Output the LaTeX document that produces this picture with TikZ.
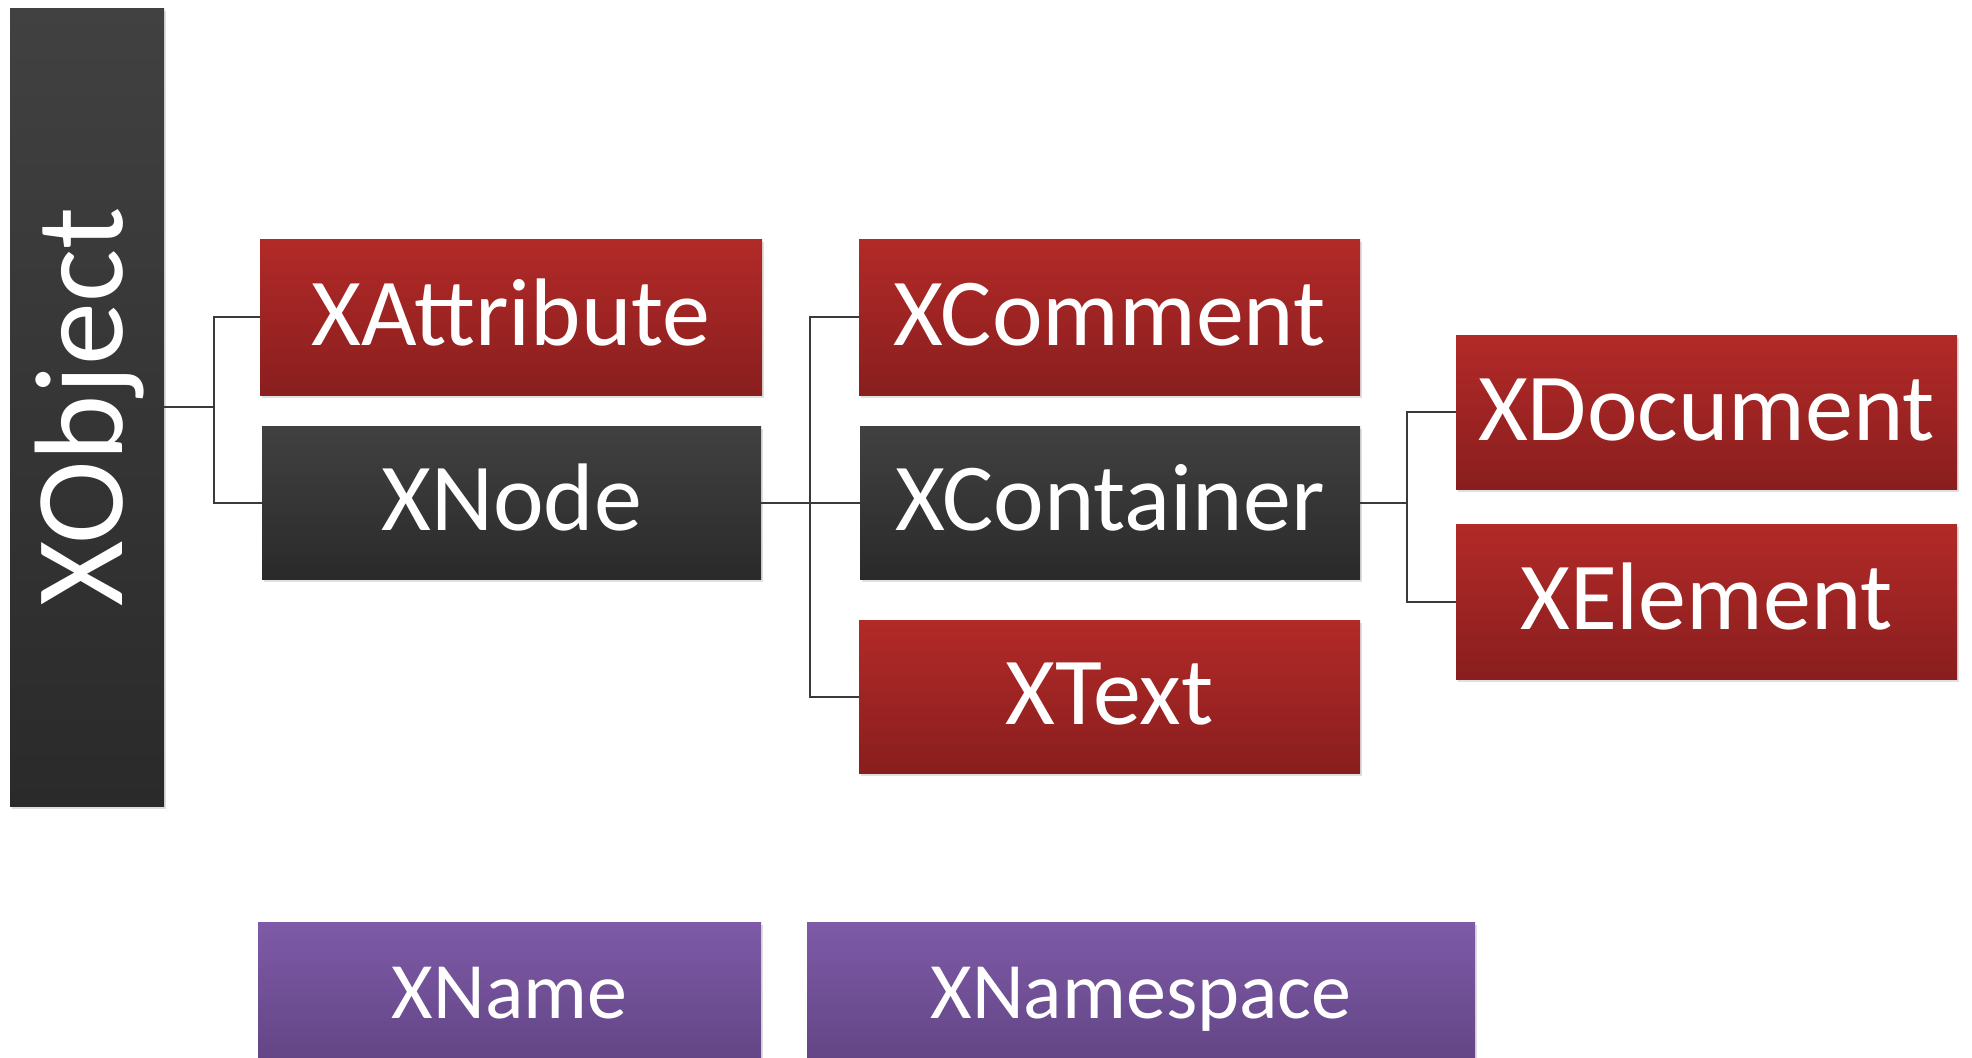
\documentclass[tikz,border=0pt]{standalone}
\usepackage{fontspec}
\setmainfont{Carlito}
\usetikzlibrary{shadows}
\definecolor{redtop}{HTML}{B22A28}
\definecolor{redbot}{HTML}{891E1E}
\definecolor{darktop}{HTML}{414141}
\definecolor{darkbot}{HTML}{2A2A2A}
\definecolor{purtop}{HTML}{7E5AA8}
\definecolor{purbot}{HTML}{614482}
\definecolor{linecol}{HTML}{3A3A3A}
\tikzset{
  box/.style={rectangle, inner sep=0pt, text=white, draw=none,
    drop shadow={opacity=0.25, shadow xshift=0.8pt, shadow yshift=-1.6pt}},
  bigfont/.style={font=\fontsize{48}{58}\selectfont, text height=31pt, text depth=3pt},
  redbox/.style={box, bigfont, top color=redtop, bottom color=redbot},
  darkbox/.style={box, bigfont, top color=darktop, bottom color=darkbot},
  rootbox/.style={box, top color=darktop, bottom color=darkbot, font=\fontsize{63}{75}\selectfont},
  purbox/.style={box, top color=purtop, bottom color=purbot, font=\fontsize{40}{48}\selectfont, text height=25.8pt, text depth=4pt},
  conn/.style={draw=linecol, line width=1pt}
}
\begin{document}
\begin{tikzpicture}[x=0.5pt,y=-0.5pt]
\useasboundingbox (0,0) rectangle (1972,1057);
% nodes
\node[rootbox, minimum width=77pt, minimum height=399pt] (xobj) at (87,407) {\hspace{3pt}\rotatebox{90}{XObject}};
\node[redbox, minimum width=251pt, minimum height=78pt] (xattr) at (511,317) {XAttribute};
\node[darkbox, minimum width=249.5pt, minimum height=76.5pt] (xnode) at (511.5,502.5) {XNode};
\node[redbox, minimum width=250.5pt, minimum height=78pt] (xcomment) at (1109.5,317) {XComment};
\node[darkbox, minimum width=250pt, minimum height=76.5pt] (xcont) at (1110,502.5) {XContainer};
\node[redbox, minimum width=250.5pt, minimum height=76.5pt] (xtext) at (1109.5,696.5) {XText};
\node[redbox, minimum width=250.5pt, minimum height=77pt] (xdoc) at (1706.5,412) {XDocument};
\node[redbox, minimum width=250.5pt, minimum height=77.5pt] (xelem) at (1706.5,601.5) {XElement};
\node[purbox, minimum width=251.5pt, minimum height=75pt] (xname) at (509.5,997) {XName};
\node[purbox, minimum width=334pt, minimum height=75pt] (xns) at (1141,997) {XNamespace};
% junction coordinates
\coordinate (j1) at (214,0);
\coordinate (j2) at (810,0);
\coordinate (j3) at (1407,0);
% connectors
\draw[conn] (xobj.east) -- (j1 |- xobj.east);
\draw[conn] (xattr.west) -| (j1 |- xnode.west) -- (xnode.west);
\draw[conn] (xnode.east) -- (j2 |- xnode.east);
\draw[conn] (xcomment.west) -| (j2 |- xtext.west) -- (xtext.west);
\draw[conn] (j2 |- xcont.west) -- (xcont.west);
\draw[conn] (xcont.east) -- (j3 |- xcont.east);
\draw[conn] (xdoc.west) -| (j3 |- xelem.west) -- (xelem.west);
\end{tikzpicture}
\end{document}
